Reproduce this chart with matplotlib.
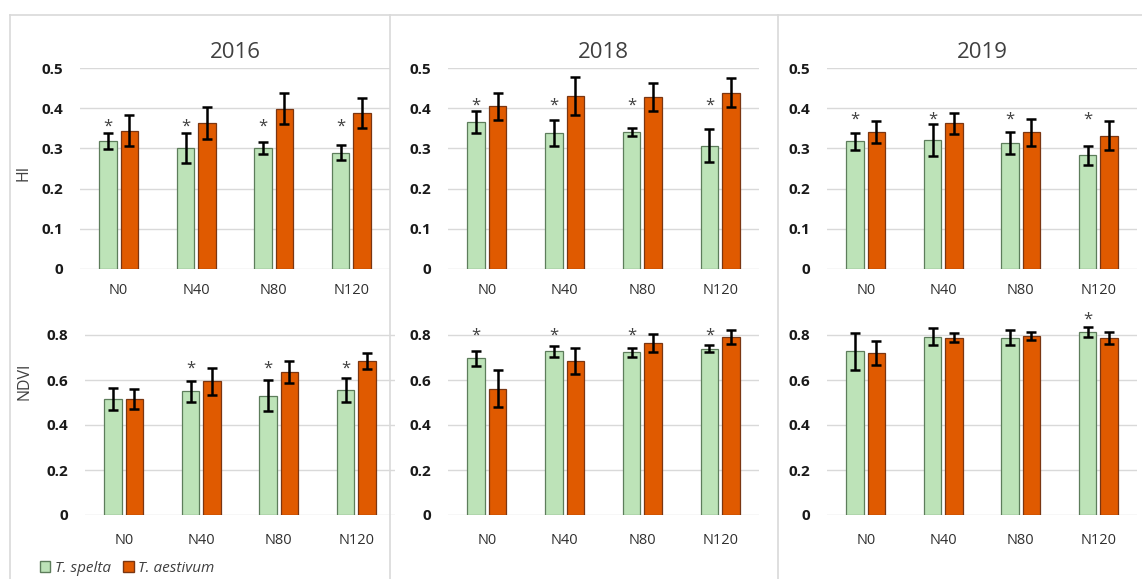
import numpy as np
import matplotlib
matplotlib.use("Agg")
import matplotlib.pyplot as plt
from matplotlib.lines import Line2D
from matplotlib.patches import Patch

plt.rcParams['font.family'] = ['Open Sans', 'DejaVu Sans']

# Data
categories = ["N0", "N40", "N80", "N120"]
years = ["2016", "2018", "2019"]

hi_spelta = [[0.318, 0.301, 0.301, 0.289],
             [0.365, 0.338, 0.340, 0.307],
             [0.318, 0.320, 0.313, 0.283]]
hi_spelta_err = [[0.020, 0.037, 0.014, 0.019],
                 [0.027, 0.032, 0.010, 0.042],
                 [0.021, 0.040, 0.027, 0.024]]
hi_aestivum = [[0.344, 0.363, 0.399, 0.388],
               [0.405, 0.430, 0.428, 0.438],
               [0.340, 0.363, 0.340, 0.332]]
hi_aestivum_err = [[0.039, 0.040, 0.039, 0.037],
                   [0.034, 0.048, 0.035, 0.036],
                   [0.027, 0.026, 0.034, 0.035]]

ndvi_spelta = [[0.516, 0.550, 0.531, 0.555],
               [0.696, 0.727, 0.724, 0.739],
               [0.728, 0.793, 0.788, 0.812]]
ndvi_spelta_err = [[0.050, 0.046, 0.067, 0.052],
                   [0.034, 0.024, 0.020, 0.015],
                   [0.083, 0.037, 0.034, 0.022]]
ndvi_aestivum = [[0.516, 0.595, 0.636, 0.684],
                 [0.562, 0.684, 0.766, 0.791],
                 [0.721, 0.788, 0.795, 0.788]]
ndvi_aestivum_err = [[0.045, 0.060, 0.050, 0.034],
                     [0.081, 0.058, 0.040, 0.032],
                     [0.054, 0.020, 0.019, 0.026]]

# significance marks (on T. spelta bars) and their heights per panel
hi_stars = [[1, 1, 1, 1], [1, 1, 1, 1], [1, 1, 1, 1]]
ndvi_stars = [[0, 1, 1, 1], [1, 1, 1, 1], [0, 0, 0, 1]]
hi_star_y = [0.359, 0.411, 0.378]
ndvi_star_y = [0.662, 0.806, 0.879]

W, H = 1142, 579
fig = plt.figure(figsize=(W / 100, H / 100), dpi=100)

green, green_edge = '#bde3b8', '#5d7d5b'
orange, orange_edge = '#e05a00', '#7a3612'
txt = '#404040'

# panel frames (pixel coords)
def px_line(x0, y0, x1, y1):
    fig.add_artist(Line2D([x0 / W, x1 / W], [1 - y0 / H, 1 - y1 / H],
                          color='#d9d9d9', lw=1.2))

px_line(10, 15, W, 15)
for xv in (10, 390, 778):
    px_line(xv, 15, xv, H)

# axes extents in pixels: (left, right)
top_x = [(80, 390), (448, 759), (827, 1137)]
bot_x = [(85, 395), (448, 759), (827, 1137)]


def make_axes(xl, xr, y_zero, y_top):
    return fig.add_axes([xl / W, 1 - y_zero / H, (xr - xl) / W, (y_zero - y_top) / H])


def draw_panel(ax, sp, sp_err, ae, ae_err, stars, star_y, ymax, ticks, xpad):
    x = np.arange(len(categories))
    w, off = 0.225, 0.138
    ax.set_axisbelow(True)
    ax.yaxis.grid(True, color='#d9d9d9', lw=1)
    ax.bar(x - off, sp, w, color=green, edgecolor=green_edge, lw=0.9, zorder=2)
    ax.bar(x + off, ae, w, color=orange, edgecolor=orange_edge, lw=0.9, zorder=2)
    ekw = dict(fmt='none', ecolor='black', elinewidth=1.8, capsize=3.5, capthick=1.8, zorder=3)
    ax.errorbar(x - off, sp, yerr=sp_err, **ekw)
    ax.errorbar(x + off, ae, yerr=ae_err, **ekw)
    for i, s in enumerate(stars):
        if s:
            ax.annotate('*', (x[i] - off, star_y), xytext=(0, -4.5), textcoords='offset points',
                        ha='center', va='baseline', fontsize=12, color=txt)
    ax.set_xlim(-0.5, len(categories) - 0.5)
    ax.set_ylim(0, ymax)
    ax.set_yticks(ticks)
    ax.set_yticklabels([('%g' % t) for t in ticks], fontweight='bold', fontsize=11, color='#1a1a1a')
    ax.set_xticks(x)
    ax.set_xticklabels(categories, fontsize=10.5, color='#303030')
    ax.tick_params(axis='y', length=0, pad=12)
    ax.tick_params(axis='x', length=0, pad=xpad)
    for s in ax.spines.values():
        s.set_visible(False)
    ax.patch.set_alpha(0)


hi_ticks = [0, 0.1, 0.2, 0.3, 0.4, 0.5]
ndvi_ticks = [0, 0.2, 0.4, 0.6, 0.8]

for j in range(3):
    ax = make_axes(*top_x[j], 269, 68)
    draw_panel(ax, hi_spelta[j], hi_spelta_err[j], hi_aestivum[j], hi_aestivum_err[j],
               hi_stars[j], hi_star_y[j], 0.5, hi_ticks, 10)
    ax.set_title(years[j], fontsize=16, color=txt, pad=7)
    if j == 0:
        ax.set_ylabel('HI', fontsize=11.5, color=txt)
        ax.yaxis.set_label_coords(-0.155, 0.478)

    ax = make_axes(*bot_x[j], 515, 312.5)
    draw_panel(ax, ndvi_spelta[j], ndvi_spelta_err[j], ndvi_aestivum[j], ndvi_aestivum_err[j],
               ndvi_stars[j], ndvi_star_y[j], 0.9, ndvi_ticks, 13)
    if j == 0:
        ax.set_ylabel('NDVI', fontsize=11.5, color=txt)
        ax.yaxis.set_label_coords(-0.168, 0.66)

handles = [Patch(facecolor=green, edgecolor=green_edge, label='T. spelta'),
           Patch(facecolor=orange, edgecolor=orange_edge, label='T. aestivum')]
fig.legend(handles=handles, loc='center left', bbox_to_anchor=(32 / W, 1 - 568 / H), ncol=2,
           frameon=False, prop={'style': 'italic', 'size': 11}, handlelength=0.7, handleheight=0.7,
           handletextpad=0.3, columnspacing=0.8, borderpad=0, labelcolor=txt)

fig.savefig('out.png', dpi=100, facecolor='white')
